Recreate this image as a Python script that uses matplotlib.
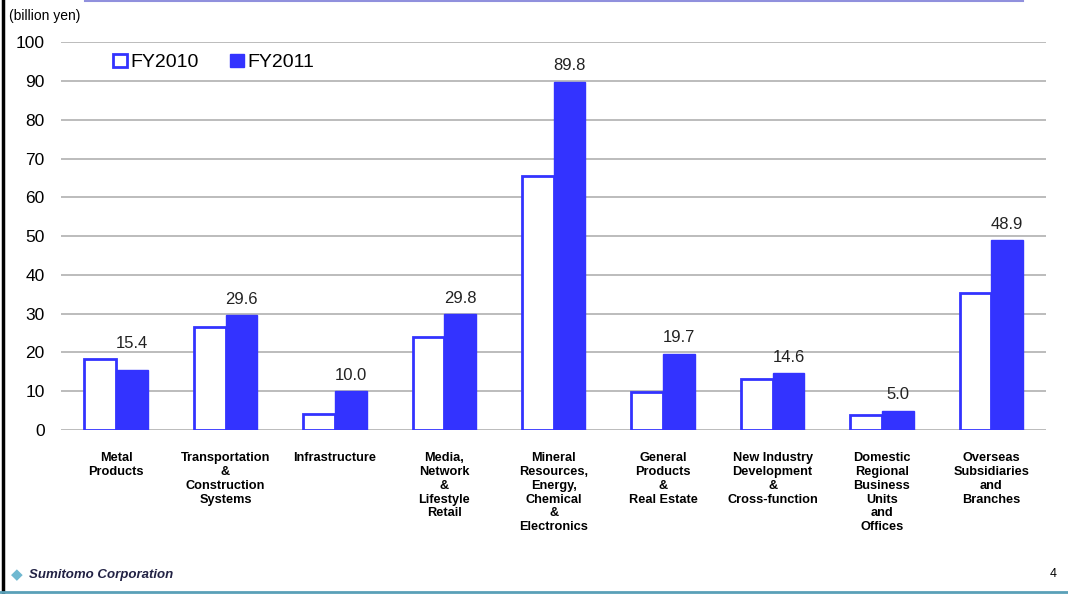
import numpy as np
import matplotlib.pyplot as plt
from matplotlib.patches import Patch
from matplotlib.lines import Line2D

plt.rcParams['font.family'] = ['Liberation Sans', 'DejaVu Sans']

categories = [
    "Metal\nProducts",
    "Transportation\n&\nConstruction\nSystems",
    "Infrastructure",
    "Media,\nNetwork\n&\nLifestyle\nRetail",
    "Mineral\nResources,\nEnergy,\nChemical\n&\nElectronics",
    "General\nProducts\n&\nReal Estate",
    "New Industry\nDevelopment\n&\nCross-function",
    "Domestic\nRegional\nBusiness\nUnits\nand\nOffices",
    "Overseas\nSubsidiaries\nand\nBranches",
]
fy2010 = [18.2, 26.5, 4.1, 24.0, 65.6, 9.8, 13.1, 3.9, 35.3]
fy2011 = [15.4, 29.6, 10.0, 29.8, 89.8, 19.7, 14.6, 5.0, 48.9]

blue = "#3333ff"

fig = plt.figure(figsize=(10.68, 5.94), dpi=100)
ax = fig.add_axes([0.0575, 0.276, 0.922, 0.653])

x = np.arange(len(categories))
w = 0.29
ax.bar(x - w / 2, fy2010, w, facecolor="white", edgecolor=blue, linewidth=2, zorder=3)
bars11 = ax.bar(x + w / 2, fy2011, w, color=blue, edgecolor=blue, linewidth=1, zorder=3)

# labels for FY2011 only, kept above the taller bar of the pair
for b, v, v0 in zip(bars11, fy2011, fy2010):
    ax.text(b.get_x() + b.get_width() / 2, max(v, v0) + 2.2, f"{v:.1f}", ha="center",
            va="bottom", fontsize=12, color="#222222")

ax.set_xlim(-0.5, len(categories) - 0.5)
ax.set_ylim(0, 100)
ax.set_yticks(range(0, 101, 10))
ax.yaxis.grid(True, color="#b0b0b0", linewidth=1.2, zorder=0)
for s in ax.spines.values():
    s.set_visible(False)
ax.tick_params(axis="y", length=0, labelsize=12.5, pad=12)
ax.tick_params(axis="x", length=0, pad=16)
ax.set_xticks(x)
ax.set_xticklabels(categories, fontsize=9.2, fontweight="bold", linespacing=1.2)

handles = [Patch(facecolor="white", edgecolor=blue, linewidth=2),
           Patch(facecolor=blue, edgecolor=blue)]
ax.legend(handles, ["FY2010", "FY2011"], loc="upper left", bbox_to_anchor=(0.035, 1.015),
          ncol=2, frameon=False, fontsize=14, handlelength=0.7, handleheight=0.7,
          handletextpad=0.2, columnspacing=1.6)

fig.text(0.008, 0.973, "(billion yen)", fontsize=10, ha="left", va="center")

# slide decorations
fig.add_artist(Line2D([0.003, 0.003], [0, 1], color="black", linewidth=2.5, transform=fig.transFigure))
fig.add_artist(Line2D([0.08, 0.958], [0.999, 0.999], color="#9090dd", linewidth=1.5, transform=fig.transFigure))
fig.add_artist(Line2D([0, 1], [0.004, 0.004], color="#5aa0b8", linewidth=2, transform=fig.transFigure))
fig.text(0.016, 0.032, "\u25c6", fontsize=11, color="#6fb8d0", ha="center", va="center")
fig.text(0.027, 0.032, "Sumitomo Corporation", fontsize=9.5, fontstyle="italic",
         fontweight="bold", color="#222244", ha="left", va="center")
fig.text(0.986, 0.034, "4", fontsize=9, ha="center", va="center")

fig.savefig("out.png", dpi=100)
